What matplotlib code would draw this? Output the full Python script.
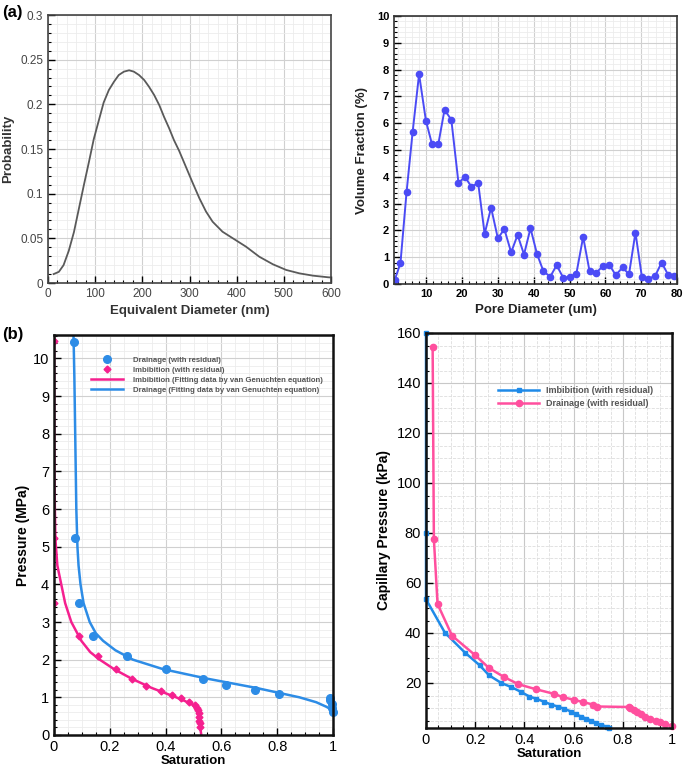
import matplotlib
matplotlib.use("Agg")
import matplotlib.pyplot as plt
from matplotlib.ticker import MultipleLocator, FixedLocator
import numpy as np

plt.rcParams['font.family'] = ['Liberation Sans', 'DejaVu Sans']

# ---------- Data ----------
# (a) left: probability vs equivalent diameter
eq_diam = [12, 23, 33, 44, 55, 65, 76, 87, 97, 108, 118, 129, 140, 150, 161, 172, 182, 193,
           204, 214, 225, 236, 246, 257, 267, 278, 290, 306, 321, 335, 349, 370, 392, 420,
           448, 477, 505, 533, 562, 594, 600]
prob = [0.010, 0.0125, 0.020, 0.036, 0.057, 0.082, 0.1095, 0.136, 0.161, 0.1825, 0.202,
        0.216, 0.2254, 0.2328, 0.2366, 0.2381, 0.2366, 0.2328, 0.2272, 0.2198, 0.2105, 0.199,
        0.186, 0.173, 0.160, 0.148, 0.133, 0.113, 0.0948, 0.080, 0.0686, 0.0574, 0.050,
        0.0406, 0.0294, 0.0209, 0.0146, 0.0108, 0.0082, 0.0064, 0.0062]

# (a) right: volume fraction vs pore diameter
pore_diam = [1.2, 2.8, 4.5, 6.2, 8.0, 9.9, 11.6, 13.4, 15.1, 17.0, 19.0, 20.8, 22.6, 24.5,
             26.3, 28.1, 30.0, 31.8, 33.7, 35.5, 37.3, 39.1, 40.9, 42.7, 44.6, 46.4, 48.3,
             50.0, 51.9, 53.8, 55.6, 57.4, 59.3, 61.1, 62.9, 64.8, 66.6, 68.4, 70.2, 72.0,
             73.9, 75.7, 77.5, 79.3]
vol_frac = [0.15, 0.78, 3.42, 5.67, 7.83, 6.10, 5.22, 5.24, 6.50, 6.13, 3.77, 4.00, 3.63, 3.77,
            1.87, 2.85, 1.70, 2.05, 1.18, 1.83, 1.10, 2.08, 1.13, 0.48, 0.27, 0.70, 0.22,
            0.27, 0.38, 1.76, 0.47, 0.41, 0.67, 0.72, 0.33, 0.62, 0.36, 1.92, 0.26, 0.20,
            0.30, 0.80, 0.35, 0.30]

# (b) left: pressure vs saturation
drain_s = [0.070, 0.074, 0.088, 0.140, 0.260, 0.400, 0.533, 0.618, 0.720, 0.806, 0.988,
           0.990, 0.995, 0.998, 1.000]
drain_p = [10.44, 5.24, 3.50, 2.62, 2.10, 1.75, 1.50, 1.33, 1.20, 1.08, 0.99, 0.93, 0.82,
           0.72, 0.62]
imb_s = [0.0, 0.0, 0.0, 0.088, 0.158, 0.221, 0.280, 0.330, 0.382, 0.423, 0.454, 0.484, 0.504,
         0.512, 0.516, 0.518, 0.520, 0.521, 0.522, 0.523]
imb_p = [10.45, 5.22, 3.50, 2.62, 2.09, 1.75, 1.49, 1.31, 1.17, 1.06, 0.97, 0.87, 0.80,
         0.73, 0.66, 0.58, 0.49, 0.38, 0.31, 0.20]
imb_fit_s = [0.0005, 0.001, 0.002, 0.005, 0.012, 0.026, 0.040, 0.062, 0.098, 0.130, 0.164,
             0.215, 0.277, 0.350, 0.438, 0.470, 0.498, 0.512, 0.519, 0.523, 0.526, 0.528]
imb_fit_p = [10.6, 8.0, 6.5, 5.2, 4.5, 4.0, 3.5, 3.0, 2.5, 2.2, 2.0, 1.75, 1.5, 1.25, 1.0,
             0.9, 0.8, 0.65, 0.45, 0.25, 0.1, 0.0]
drain_fit_s = [0.070, 0.073, 0.076, 0.080, 0.084, 0.088, 0.095, 0.106, 0.128, 0.150, 0.176,
               0.220, 0.283, 0.390, 0.546, 0.725, 0.880, 0.940, 0.976, 1.000]
drain_fit_p = [10.6, 9.5, 8.0, 6.0, 5.0, 4.5, 4.0, 3.5, 3.0, 2.7, 2.5, 2.25, 2.0, 1.75, 1.5,
               1.25, 1.0, 0.87, 0.75, 0.65]

# (b) right: capillary pressure vs saturation
cap_imb_s = [0.0, 0.0, 0.0, 0.077, 0.158, 0.218, 0.256, 0.306, 0.346, 0.387, 0.420, 0.447,
             0.478, 0.508, 0.535, 0.562, 0.589, 0.609, 0.629, 0.650, 0.670, 0.690, 0.710,
             0.737, 0.744]
cap_imb_p = [160.0, 80.0, 53.5, 40.1, 32.2, 27.1, 23.1, 20.0, 18.4, 16.4, 14.6, 13.7, 12.6,
             11.4, 10.6, 9.7, 8.6, 7.6, 6.6, 5.8, 5.0, 4.1, 3.3, 2.5, 2.1]
cap_dr_s = [0.027, 0.032, 0.047, 0.106, 0.200, 0.256, 0.317, 0.376, 0.447, 0.519, 0.555,
            0.600, 0.637, 0.678, 0.697, 0.825, 0.830, 0.845, 0.858, 0.872, 0.892, 0.912,
            0.933, 0.953, 0.973, 1.000]
cap_dr_p = [154.6, 77.6, 51.6, 38.9, 31.1, 26.0, 22.4, 19.5, 17.5, 15.7, 14.4, 13.3, 12.4,
            11.4, 10.6, 10.4, 10.0, 9.2, 8.6, 7.6, 6.6, 5.7, 5.0, 4.3, 3.6, 2.9]

# ---------- Figure ----------
fig = plt.figure(figsize=(6.85, 7.71), dpi=100)
W, H = 685, 771

def add_ax(l, r, t, b):
    return fig.add_axes([l / W, 1 - b / H, (r - l) / W, (b - t) / H])

def style(ax, frame_color, lw, gcol_major='#d0d0d0', gcol_minor='#ececec', minor_ls='-'):
    for s in ax.spines.values():
        s.set_color(frame_color)
        s.set_linewidth(lw)
    ax.tick_params(which='both', direction='in', top=False, right=False)
    ax.tick_params(which='major', length=5, width=1)
    ax.tick_params(which='minor', length=2.5, width=0.8)
    ax.grid(which='major', color=gcol_major, lw=0.8)
    ax.grid(which='minor', color=gcol_minor, lw=0.6, ls=minor_ls)
    ax.set_axisbelow(True)

# (a) left
ax1 = add_ax(48, 331, 15, 283)
ax1.plot(eq_diam, prob, color='#5a5a5a', lw=1.3)
ax1.set_xlim(0, 600)
ax1.set_ylim(0, 0.3)
ax1.xaxis.set_major_locator(MultipleLocator(100))
ax1.xaxis.set_minor_locator(MultipleLocator(20))
ax1.yaxis.set_minor_locator(MultipleLocator(0.01))
ax1.set_yticks([0, 0.05, 0.1, 0.15, 0.2, 0.25, 0.3])
ax1.set_yticklabels(['0', '0.05', '0.1', '0.15', '0.2', '0.25', '0.3'])
style(ax1, '#444444', 1.2)
ax1.tick_params(labelsize=8.5, labelcolor='#444444')
ax1.set_ylabel('Probability', fontsize=9.5, fontweight='bold', color='#333333', labelpad=4)
ax1.set_xlabel('Equivalent Diameter (nm)', fontsize=9.5, fontweight='bold', color='#333333', labelpad=4)

# (a) right
ax2 = add_ax(394, 677, 16, 284)
ax2.plot(pore_diam, vol_frac, color='#4b4bf5', lw=1.4, marker='o', ms=4.5)
ax2.set_xlim(1, 80)
ax2.set_ylim(0, 10)
ax2.set_xticks([10, 20, 30, 40, 50, 60, 70, 80])
ax2.xaxis.set_minor_locator(MultipleLocator(2))
ax2.yaxis.set_major_locator(MultipleLocator(1))
ax2.yaxis.set_minor_locator(MultipleLocator(0.2))
style(ax2, '#333333', 1.2)
ax2.tick_params(labelsize=8)
for lab in ax2.get_xticklabels() + ax2.get_yticklabels():
    lab.set_fontweight('bold')
ax2.set_ylabel('Volume Fraction (%)', fontsize=9.5, fontweight='bold', color='#222222', labelpad=6)
ax2.set_xlabel('Pore Diameter (um)', fontsize=9.5, fontweight='bold', color='#222222', labelpad=4)

# (b) left
ax3 = add_ax(54, 333, 335, 735)
pink = '#f5208f'
blue = '#2d8ce6'
ax3.plot(drain_s, drain_p, 'o', color=blue, ms=5.5, ls='none', clip_on=False,
         label='Drainage (with residual)')
ax3.plot(imb_s, imb_p, 'D', color=pink, ms=3.5, ls='none', clip_on=True,
         label='Imbibition (with residual)')
ax3.plot(imb_fit_s, imb_fit_p, '-', color=pink, lw=1.8,
         label='Imbibition (Fitting data by van Genuchten equation)')
ax3.plot(drain_fit_s, drain_fit_p, '-', color=blue, lw=1.8,
         label='Drainage (Fitting data by van Genuchten equation)')
ax3.set_xlim(0, 1)
ax3.set_ylim(0, 10.62)
ax3.set_xticks([0, 0.2, 0.4, 0.6, 0.8, 1.0])
ax3.set_xticklabels(['0', '0.2', '0.4', '0.6', '0.8', '1'])
ax3.xaxis.set_minor_locator(MultipleLocator(0.05))
ax3.set_yticks(list(range(0, 11)))
ax3.yaxis.set_minor_locator(MultipleLocator(0.2))
style(ax3, '#111111', 1.8)
ax3.tick_params(labelsize=10.5)
ax3.set_ylabel('Pressure (MPa)', fontsize=10, fontweight='bold', labelpad=2)
ax3.set_xlabel('Saturation', fontsize=9.5, fontweight='bold', labelpad=1)
leg3 = ax3.legend(loc='upper left', bbox_to_anchor=(0.12, 0.955), frameon=False,
                  fontsize=5.6, handlelength=4.2, handletextpad=1.2, labelspacing=0.35,
                  borderaxespad=0)
for t in leg3.get_texts():
    t.set_color('#555555')
    t.set_fontweight('bold')

# (b) right
ax4 = add_ax(426, 672, 333, 728)
pink2 = '#ff4f9e'
blue2 = '#1f8ae8'
ax4.plot(cap_imb_s, cap_imb_p, '-s', color=blue2, lw=1.8, ms=2.5, clip_on=False,
         label='Imbibition (with residual)')
ax4.plot(cap_dr_s, cap_dr_p, '-o', color=pink2, lw=1.8, ms=4.5, clip_on=False,
         label='Drainage (with residual)')
ax4.set_xlim(0, 1)
ax4.set_ylim(2, 160)
ax4.set_xticks([0, 0.2, 0.4, 0.6, 0.8, 1.0])
ax4.set_xticklabels(['0', '0.2', '0.4', '0.6', '0.8', '1'])
ax4.xaxis.set_minor_locator(MultipleLocator(0.05))
ax4.set_yticks([20, 40, 60, 80, 100, 120, 140, 160])
ax4.yaxis.set_minor_locator(FixedLocator(list(np.arange(5, 160, 5))))
style(ax4, '#111111', 1.8, gcol_major='#c8c8c8', gcol_minor='#dddddd', minor_ls='--')
ax4.tick_params(labelsize=10.5)
ax4.set_ylabel('Capillary Pressure (kPa)', fontsize=10, fontweight='bold', labelpad=4)
ax4.set_xlabel('Saturation', fontsize=9.5, fontweight='bold', labelpad=1)
leg4 = ax4.legend(loc='upper left', bbox_to_anchor=(0.28, 0.875), frameon=False,
                  fontsize=6.5, handlelength=4.5, handletextpad=0.8, labelspacing=0.45,
                  borderaxespad=0)
for t in leg4.get_texts():
    t.set_color('#555555')
    t.set_fontweight('bold')

fig.text(2 / W, 1 - 12 / H, '(a)', fontsize=12, fontweight='bold', va='center', ha='left')
fig.text(2 / W, 1 - 334 / H, '(b)', fontsize=12, fontweight='bold', va='center', ha='left')

fig.savefig('out.png', dpi=100)
